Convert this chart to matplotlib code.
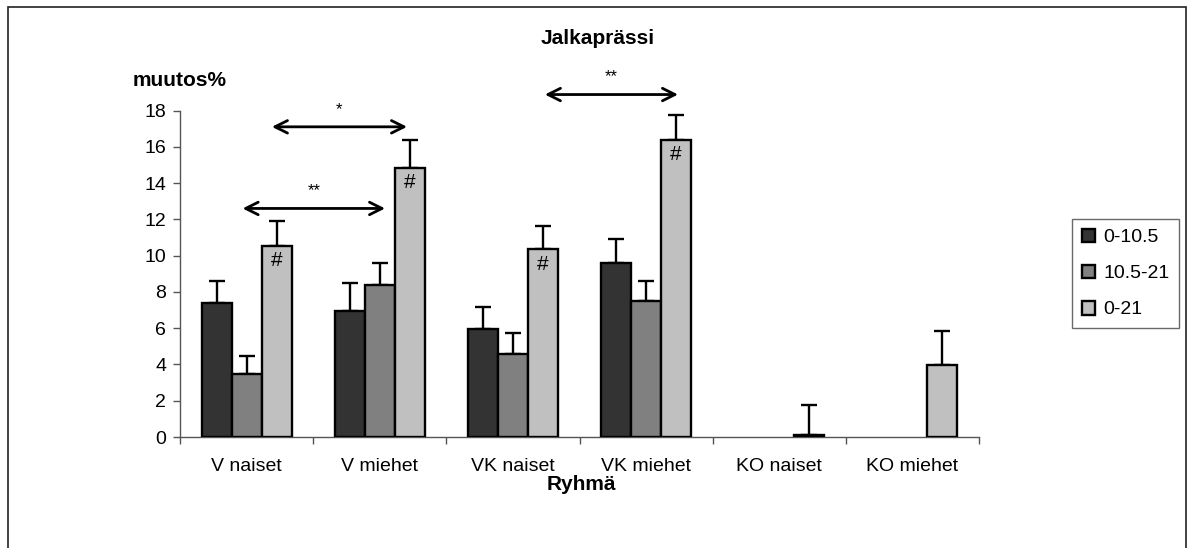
import numpy as np
import matplotlib
matplotlib.use("Agg")
import matplotlib.pyplot as plt
from matplotlib.patches import Rectangle

plt.rcParams['font.family'] = ['Liberation Sans', 'DejaVu Sans']

# Data
groups = ["V naiset", "V miehet", "VK naiset", "VK miehet", "KO naiset", "KO miehet"]
series_labels = ["0-10.5", "10.5-21", "0-21"]
vals_0_105 = [7.4, 6.95, 5.95, 9.6, np.nan, np.nan]
vals_105_21 = [3.45, 8.4, 4.6, 7.5, np.nan, np.nan]
vals_0_21 = [10.55, 14.85, 10.35, 16.4, 0.1, 3.95]
err_0_105 = [1.2, 1.55, 1.2, 1.3, np.nan, np.nan]
err_105_21 = [1.0, 1.2, 1.15, 1.1, np.nan, np.nan]
err_0_21 = [1.35, 1.55, 1.3, 1.35, 1.65, 1.9]
hash_marks = [True, True, True, True, False, False]

colors = ["#333333", "#808080", "#C0C0C0"]

fig = plt.figure(figsize=(11.88, 5.48), dpi=100)
W, H = 1188, 548

# outer chart border
fig.patches.append(Rectangle((8 / W, -0.02), (1186 - 8) / W, 1 - 7 / H + 0.02,
                             transform=fig.transFigure, fill=False,
                             edgecolor="#222222", linewidth=1.2))

ax = fig.add_axes([180 / W, 1 - 437 / H, (979 - 180) / W, (437 - 110.5) / H])

x = np.arange(len(groups))
bw = 0.225
series = [vals_0_105, vals_105_21, vals_0_21]
errs = [err_0_105, err_105_21, err_0_21]
for k, (v, e, c, lab) in enumerate(zip(series, errs, colors, series_labels)):
    pos = x + (k - 1) * bw
    v = np.array(v, dtype=float)
    e = np.array(e, dtype=float)
    ax.bar(pos, v, width=bw, color=c, edgecolor="black", linewidth=1.7,
           label=lab, zorder=3)
    ax.errorbar(pos, v, yerr=[np.zeros_like(e), e], fmt="none",
                ecolor="black", elinewidth=1.7, capsize=5.5, capthick=1.7,
                zorder=2)

# significance marks inside the 0-21 bars
for i, flag in enumerate(hash_marks):
    if flag:
        ax.text(x[i] + bw, vals_0_21[i] - 0.3, "#", ha="center", va="top",
                fontsize=15, zorder=4)

# comparison arrows
arrows = [(0.19, 1.205, 17.1, "*"), (-0.03, 1.04, 12.6, "**"), (2.24, 3.24, 18.88, "**")]
for x0, x1, yy, lab in arrows:
    ax.annotate("", xy=(x0, yy), xytext=(x1, yy), xycoords="data",
                arrowprops=dict(arrowstyle="<->,head_length=0.9,head_width=0.45",
                                lw=2, color="black", shrinkA=0, shrinkB=0),
                annotation_clip=False)
    ax.text((x0 + x1) / 2, yy + 0.55, lab, ha="center", va="bottom",
            fontsize=12, clip_on=False)

ax.set_xlim(-0.5, len(groups) - 0.5)
ax.set_ylim(0, 18)
ax.set_yticks(np.arange(0, 19, 2))
ax.set_xticks(x)
ax.set_xticklabels(groups)
ax.set_xticks(np.arange(-0.5, len(groups), 1.0), minor=True)
ax.tick_params(axis="x", which="major", length=0, pad=15, labelsize=14)
ax.tick_params(axis="x", which="minor", length=5, width=1, color="#555555", direction="out")
ax.tick_params(axis="y", length=5, width=1, color="#555555", pad=5, labelsize=14)
for s in ["top", "right"]:
    ax.spines[s].set_visible(False)
for s in ["left", "bottom"]:
    ax.spines[s].set_color("#555555")
    ax.spines[s].set_linewidth(1)

fig.text(598 / W, 1 - 38 / H, "Jalkaprässi", ha="center", va="center",
         fontsize=15, fontweight="bold")
fig.text(180 / W, 1 - 80 / H, "muutos%", ha="center", va="center",
         fontsize=15, fontweight="bold")
fig.text(581 / W, 1 - 485 / H, "Ryhmä", ha="center", va="center",
         fontsize=15, fontweight="bold")

leg = fig.legend(loc="upper left", bbox_to_anchor=(1072 / W, 1 - 219 / H),
                 fontsize=14, frameon=True, fancybox=False, edgecolor="#444444",
                 handlelength=0.7, handleheight=0.7, handletextpad=0.4,
                 labelspacing=0.95, borderpad=0.5, borderaxespad=0)
leg.get_frame().set_linewidth(1)

fig.savefig("out.png", dpi=100)
